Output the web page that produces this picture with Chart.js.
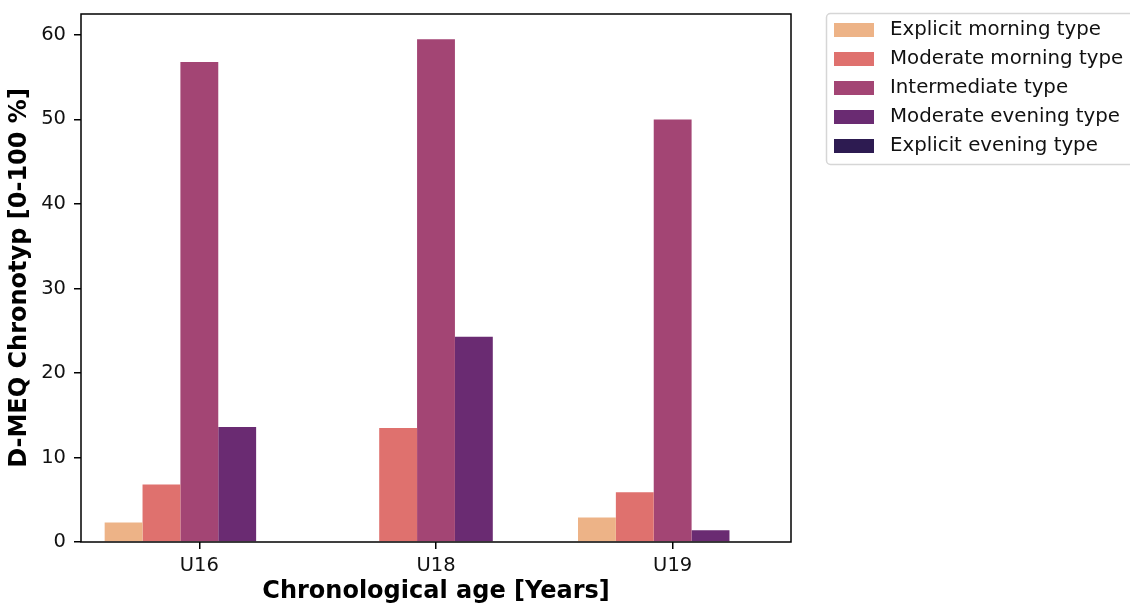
<!DOCTYPE html>
<html>
<head>
<meta charset="utf-8">
<script src="https://cdn.jsdelivr.net/npm/chart.js@4.4.1/dist/chart.umd.min.js"></script>
<style>
  html, body { margin: 0; padding: 0; background: #fff; }
  #wrap { width: 1130px; height: 603px; }
</style>
</head>
<body>
<div id="wrap"><canvas id="chart" width="1130" height="603"></canvas></div>
<script>
// Kategorien (Altersgruppen)
const categories = ['U16', 'U18', 'U19'];

// Chronotyp-Anteile in % pro Altersgruppe
const explicitMorning = [2.3, 0, 2.9];
const moderateMorning = [6.8, 13.5, 5.9];
const intermediate = [56.8, 59.5, 50.0];
const moderateEvening = [13.6, 24.3, 1.4];
const explicitEvening = [0, 0, 0];

const seriesNames = ['Explicit morning type', 'Moderate morning type', 'Intermediate type', 'Moderate evening type', 'Explicit evening type'];
const seriesColors = ['#EDB387', '#DF716E', '#A34574', '#6A2B72', '#2D1B51'];
const yTicks = [0, 10, 20, 30, 40, 50, 60];

const fontFamily = "'DejaVu Sans', sans-serif";

const allSeries = [explicitMorning, moderateMorning, intermediate, moderateEvening, explicitEvening];
const datasets = allSeries.map((values, i) => ({
    label: seriesNames[i],
    data: values,
    backgroundColor: seriesColors[i],
    borderWidth: 0,
    barPercentage: 1.0,
    categoryPercentage: 0.8
}));

// Rahmen um die Zeichenfläche + Legende (matplotlib-Stil)
const framePlugin = {
    id: 'frame',
    afterDatasetsDraw(chart) {
        const { ctx, chartArea } = chart;
        ctx.save();
        ctx.strokeStyle = '#000';
        ctx.lineWidth = 1.5;
        ctx.strokeRect(chartArea.left, chartArea.top, chartArea.right - chartArea.left, chartArea.bottom - chartArea.top);
        ctx.restore();
    },
    afterDraw(chart) {
        const { ctx } = chart;
        const x0 = 826.5, y0 = 13.5, w = 320, h = 151;
        ctx.save();
        ctx.fillStyle = 'rgba(255,255,255,0.8)';
        ctx.strokeStyle = '#d6d6d6';
        ctx.lineWidth = 1.5;
        ctx.beginPath();
        ctx.roundRect(x0, y0, w, h, 4);
        ctx.fill();
        ctx.stroke();

        ctx.font = '19.8px ' + fontFamily;
        ctx.textBaseline = 'middle';
        ctx.textAlign = 'left';
        chart.data.datasets.forEach((ds, i) => {
            const cy = 30 + i * 29;
            ctx.fillStyle = ds.backgroundColor;
            ctx.fillRect(834, cy - 7, 40, 14);
            ctx.fillStyle = '#111';
            ctx.fillText(ds.label, 890, cy);
        });
        ctx.restore();
    }
};

const ctx = document.getElementById('chart').getContext('2d');
new Chart(ctx, {
    type: 'bar',
    data: {
        labels: categories,
        datasets: datasets
    },
    options: {
        responsive: false,
        animation: false,
        layout: {
            padding: { left: 0, top: 14, right: 339, bottom: 0 }
        },
        plugins: {
            legend: { display: false },
            tooltip: { enabled: false }
        },
        scales: {
            x: {
                offset: true,
                grid: {
                    offset: false,
                    drawOnChartArea: false,
                    drawTicks: true,
                    tickLength: 7,
                    lineWidth: 1.5,
                    color: '#000'
                },
                border: { display: false },
                ticks: {
                    color: '#111',
                    padding: 5,
                    font: { family: fontFamily, size: 19.5 }
                },
                title: {
                    display: true,
                    text: 'Chronological age [Years]',
                    color: '#000',
                    padding: { top: 0, bottom: -3 },
                    font: { family: fontFamily, size: 24, weight: 'bold' }
                },
                afterFit(scale) {
                    scale.height = 61;
                    scale.paddingLeft = 0;
                    scale.paddingRight = 0;
                }
            },
            y: {
                min: 0,
                max: 62.475,
                afterBuildTicks(scale) {
                    scale.ticks = yTicks.map(v => ({ value: v }));
                },
                grid: {
                    drawOnChartArea: false,
                    drawTicks: true,
                    tickLength: 7,
                    lineWidth: 1.5,
                    color: '#000'
                },
                border: { display: false },
                ticks: {
                    color: '#111',
                    padding: 8,
                    font: { family: fontFamily, size: 19.5 }
                },
                title: {
                    display: true,
                    text: 'D-MEQ Chronotyp [0-100 %]',
                    color: '#000',
                    padding: { top: 5, bottom: 0 },
                    font: { family: fontFamily, size: 24, weight: 'bold' }
                },
                afterFit(scale) {
                    scale.width = 81;
                    scale.paddingTop = 0;
                    scale.paddingBottom = 0;
                }
            }
        }
    },
    plugins: [framePlugin]
});
</script>
</body>
</html>
